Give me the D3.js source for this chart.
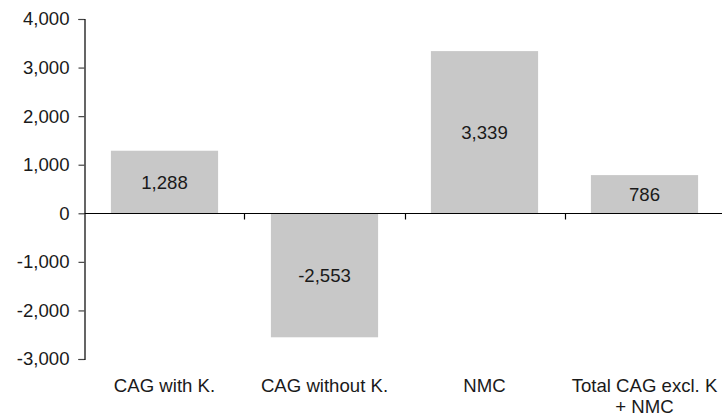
<!DOCTYPE html>
<html>
<head>
<meta charset="utf-8">
<script src="https://cdn.jsdelivr.net/npm/d3@7"></script>
<style>
  html, body { margin: 0; padding: 0; background: #fff; }
  svg text { font-family: "Liberation Sans", Arial, Helvetica, sans-serif; fill: #1a1a1a; }
</style>
</head>
<body>
<svg id="chart" width="722" height="417"></svg>
<script>
const categories = ["CAG with K.", "CAG without K.", "NMC", "Total CAG excl. K\n+ NMC"];
const values = [1288, -2553, 3339, 786];
const yTicks = [-3000, -2000, -1000, 0, 1000, 2000, 3000, 4000];

const svg = d3.select("#chart");
const fontSize = 18.6;

const x = d3.scaleBand()
  .domain(categories)
  .range([84.5, 724.5])
  .paddingInner(0.33)
  .paddingOuter(0.165);

const y = d3.scaleLinear()
  .domain([-3000, 4000])
  .range([359, 19]);

const locale = d3.formatLocale({decimal: ".", thousands: ",", grouping: [3], currency: ["", ""], minus: "-"});
const fmt = locale.format(",");

// bars
svg.append("g").selectAll("rect")
  .data(values)
  .join("rect")
  .attr("x", (d, i) => x(categories[i]))
  .attr("width", x.bandwidth())
  .attr("y", d => y(Math.max(0, d)))
  .attr("height", d => Math.abs(y(d) - y(0)))
  .attr("fill", "#c8c8c8");

// value labels
svg.append("g").selectAll("text")
  .data(values)
  .join("text")
  .attr("x", (d, i) => x(categories[i]) + x.bandwidth() / 2)
  .attr("y", d => (y(d) + y(0)) / 2)
  .attr("dy", "0.35em")
  .attr("text-anchor", "middle")
  .style("font-size", fontSize + "px")
  .text(d => fmt(d));

// y axis
const yAxis = d3.axisLeft(y)
  .tickValues(yTicks)
  .tickFormat(fmt)
  .tickSize(6)
  .tickPadding(9);
const gy = svg.append("g")
  .attr("transform", "translate(84.5,0)")
  .call(yAxis);
gy.select(".domain").attr("stroke", "#000").attr("stroke-width", 1.2);
gy.selectAll(".tick line").attr("stroke", "#444").attr("stroke-width", 1.2);
gy.selectAll(".tick text")
  .style("font-size", fontSize + "px")
  .style("font-family", "'Liberation Sans', Arial, sans-serif")
  .attr("fill", "#1a1a1a");

// zero line
const zeroY = Math.round(y(0)) + 0.5;
svg.append("line")
  .attr("x1", 84.5).attr("x2", 722)
  .attr("y1", zeroY).attr("y2", zeroY)
  .attr("stroke", "#000").attr("stroke-width", 1.2);

// category tick marks at band boundaries
const step = x.step();
const boundaries = categories.slice(1).map(c => x(c) - x.paddingInner() * step / 2);
svg.append("g").selectAll("line")
  .data(boundaries)
  .join("line")
  .attr("x1", d => Math.round(d) + 0.5).attr("x2", d => Math.round(d) + 0.5)
  .attr("y1", zeroY).attr("y2", zeroY + 6)
  .attr("stroke", "#000").attr("stroke-width", 1.2);

// category labels
const catG = svg.append("g").selectAll("text")
  .data(categories)
  .join("text")
  .attr("x", d => x(d) + x.bandwidth() / 2)
  .attr("y", 392)
  .attr("text-anchor", "middle")
  .style("font-size", fontSize + "px");
catG.each(function(d) {
  const lines = d.split("\n");
  const t = d3.select(this);
  lines.forEach((ln, i) => {
    t.append("tspan")
      .attr("x", x(d) + x.bandwidth() / 2)
      .attr("dy", i === 0 ? 0 : 20.5)
      .text(ln);
  });
});
</script>
</body>
</html>
